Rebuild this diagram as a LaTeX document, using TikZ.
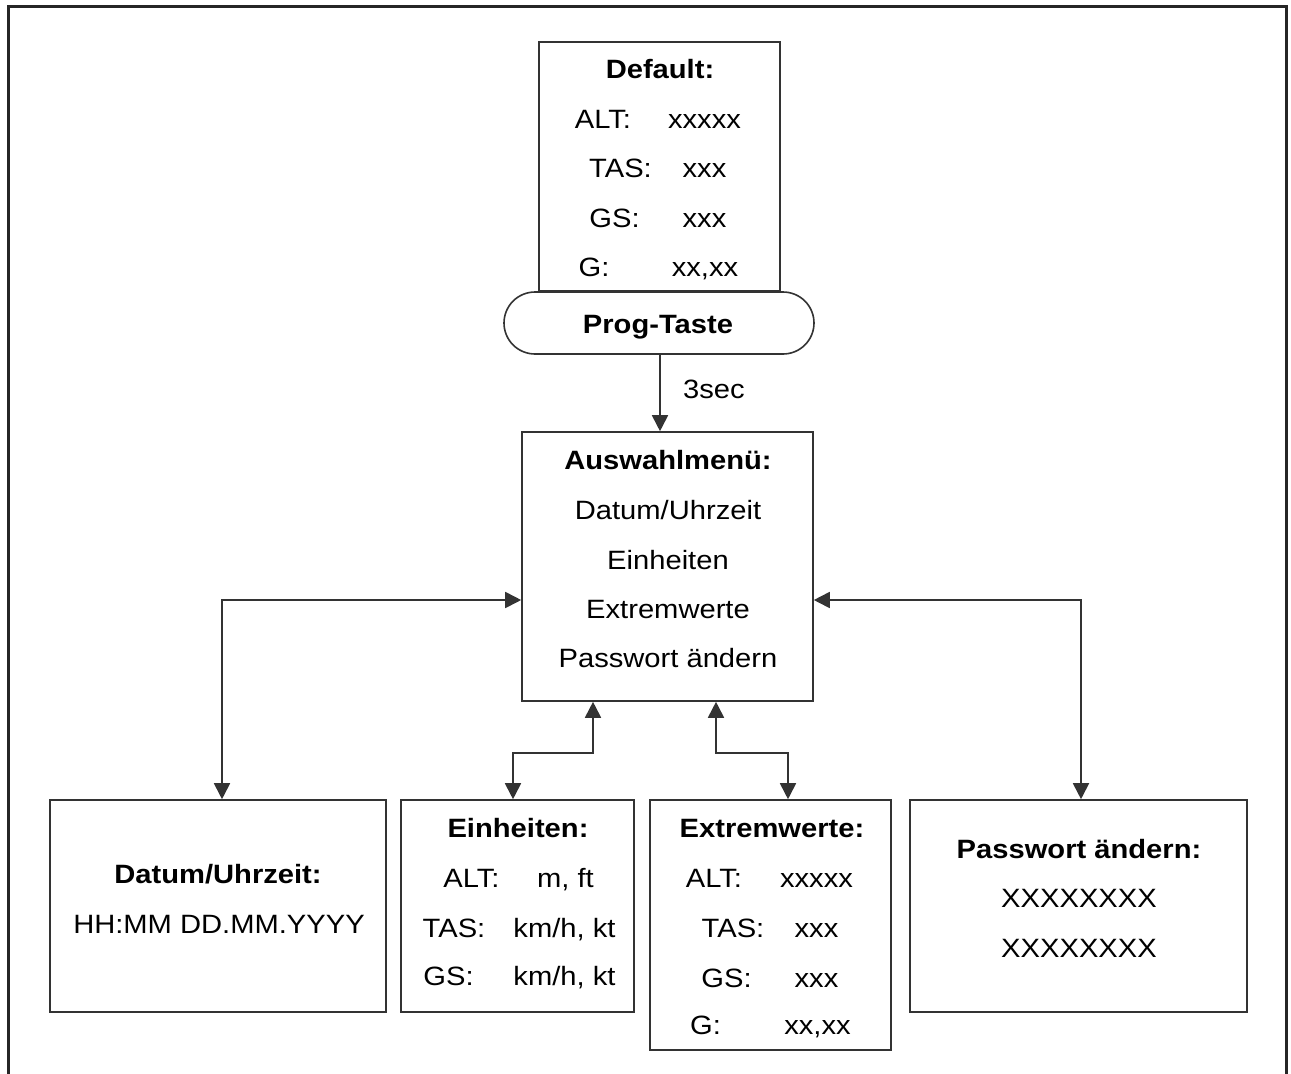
\documentclass[tikz,border=0pt]{standalone}
\usepackage{fontspec}
\setmainfont[FakeStretch=1.1]{Liberation Sans}
\usetikzlibrary{arrows.meta}
\begin{document}
\begin{tikzpicture}[x=1pt,y=-1pt,
  box/.style={draw=black!80, line width=1.6pt, fill=white, rectangle, inner sep=0pt},
  conn/.style={draw=black!80, line width=1.8pt, {Triangle[length=16pt,width=16pt]}-{Triangle[length=16pt,width=16pt]}},
  oneway/.style={draw=black!80, line width=1.8pt, -{Triangle[length=16pt,width=16pt]}},
  frame/.style={draw=black!85, line width=3pt},
  txt/.style={anchor=base, inner sep=0pt, font=\fontsize{26.5}{31}\selectfont},
  ttl/.style={txt, font=\fontsize{26.5}{31}\selectfont\bfseries}]
\useasboundingbox (0,0) rectangle (1291,1074);
% outer frame (open at the bottom)
\coordinate (fbl) at (8.5,1090);
\coordinate (ftl) at (8.5,6);
\coordinate (ftr) at (1286,6);
\coordinate (fbr) at (1286,1090);
\draw[frame] (fbl) -- (ftl) -- (ftr) -- (fbr);

% boxes
\node[box, minimum width=241pt, minimum height=249pt] (def) at (659.5,166.5) {};
\node[box, rounded corners=31pt, minimum width=310pt, minimum height=62pt] (prog) at (659,323) {};
\node[box, minimum width=291pt, minimum height=269pt] (aus) at (667.5,566.5) {};
\node[box, minimum width=336pt, minimum height=212pt] (dat) at (218,906) {};
\node[box, minimum width=233pt, minimum height=212pt] (ein) at (517.5,906) {};
\node[box, minimum width=241pt, minimum height=250pt] (ext) at (770.5,925) {};
\node[box, minimum width=337pt, minimum height=212pt] (pw) at (1078.5,906) {};

% connectors
\draw[oneway] ([xshift=1pt]prog.south) -- ([xshift=1pt]prog.south |- aus.north);
\node[txt, anchor=base west] (sec) at (683,398) {3sec};
\draw[conn] ([xshift=4pt]dat.north) |- ([yshift=-33.5pt]aus.west);
\draw[conn] ([yshift=-33.5pt]aus.east) -| ([xshift=2.5pt]pw.north);
\draw[conn] ([xshift=-74.5pt]aus.south) -- ++(0,51) -| ([xshift=-4.5pt]ein.north);
\draw[conn] ([xshift=48.5pt]aus.south) -- ++(0,51) -| ([xshift=17.5pt]ext.north);

% Default box text
\node[ttl] (defT) at (660,78) {Default:};
\node[txt] (defA) at (603,128) {ALT:};
\node[txt] (defAv) at (704.5,128) {xxxxx};
\node[txt] (defTa) at (620.5,177) {TAS:};
\node[txt] (defTav) at (704.5,177) {xxx};
\node[txt] (defG) at (614.5,227) {GS:};
\node[txt] (defGv) at (704.5,227) {xxx};
\node[txt] (defGg) at (594,276) {G:};
\node[txt] (defGgv) at (705,276) {xx,xx};

% Prog-Taste
\node[ttl] (progT) at (658,333) {Prog-Taste};

% Auswahlmenu
\node[ttl] (ausT) at (668,469) {Auswahlmenü:};
\node[txt] (aus1) at (668,519) {Datum/Uhrzeit};
\node[txt] (aus2) at (668,569) {Einheiten};
\node[txt] (aus3) at (668,618) {Extremwerte};
\node[txt] (aus4) at (668,667) {Passwort ändern};

% Datum box
\node[ttl] (datT) at (218,883) {Datum/Uhrzeit:};
\node[txt] (dat1) at (219,933) {HH:MM DD.MM.YYYY};

% Einheiten box
\node[ttl] (einT) at (518,837) {Einheiten:};
\node[txt] (einA) at (471.5,887) {ALT:};
\node[txt] (einAv) at (565.5,887) {m, ft};
\node[txt] (einTa) at (454,937) {TAS:};
\node[txt] (einTav) at (564.5,937) {km/h, kt};
\node[txt] (einG) at (448.5,985) {GS:};
\node[txt] (einGv) at (564.5,985) {km/h, kt};

% Extremwerte box
\node[ttl] (extT) at (772,837) {Extremwerte:};
\node[txt] (extA) at (714,887) {ALT:};
\node[txt] (extAv) at (816.5,887) {xxxxx};
\node[txt] (extTa) at (733,937) {TAS:};
\node[txt] (extTav) at (816.5,937) {xxx};
\node[txt] (extG) at (726.5,987) {GS:};
\node[txt] (extGv) at (816.5,987) {xxx};
\node[txt] (extGg) at (705.5,1034) {G:};
\node[txt] (extGgv) at (817.5,1034) {xx,xx};

% Passwort box
\node[ttl] (pwT) at (1079,858) {Passwort ändern:};
\node[txt] (pw1) at (1079,907) {XXXXXXXX};
\node[txt] (pw2) at (1079,957) {XXXXXXXX};
\end{tikzpicture}
\end{document}
